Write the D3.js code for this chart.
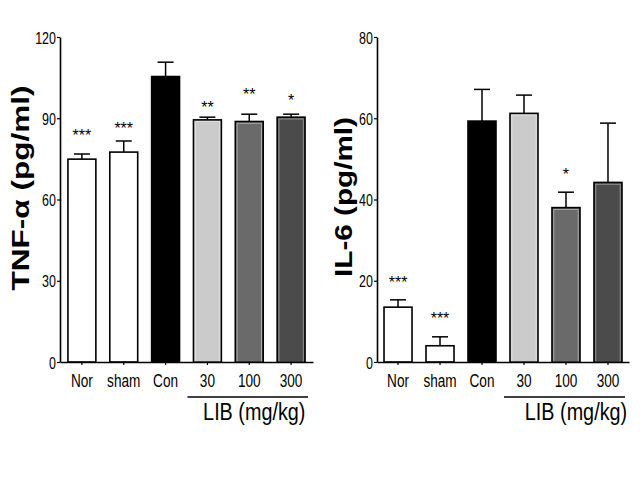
<!DOCTYPE html>
<html><head><meta charset="utf-8">
<script src="https://cdn.jsdelivr.net/npm/d3@7"></script>
<style>body{margin:0;background:#fff}svg{display:block}</style>
</head><body>
<svg id="c" width="640" height="480"></svg>
<script>
const categories = ["Nor","sham","Con","30","100","300"];
const fills = ["#ffffff","#ffffff","#000000","#cbcbcb","#6a6a6a","#4b4b4b"];
const tnfMean = [74.9, 77.5, 105.4, 89.4, 88.8, 90.4];
const tnfErr  = [76.8, 81.6, 110.7, 90.4, 91.5, 91.5];
const tnfSig  = ["***","***","","**","**","*"];
const tnfSigAt = [84, 86.4, null, 94.2, 99, 96.7];
const tnfTicks = [0,30,60,90,120];
const il6Mean = [13.5, 4.0, 59.3, 61.2, 38.0, 44.2];
const il6Err  = [15.3, 6.2, 67.1, 65.7, 41.8, 58.8];
const il6Sig  = ["***","***","","","*",""];
const il6SigAt = [19.7, 10.8, null, null, 46.3, null];
const il6Ticks = [0,20,40,60,80];
const groupLabel = "LIB (mg/kg)";

const svg = d3.select("#c");
const sans = "'Liberation Sans',Arial,sans-serif";
const SX = 0.8, SY = 1.1;

function panel(o){
  const x = d3.scaleBand().domain(categories).range([o.x0, o.x1]).paddingInner(0.333).paddingOuter(o.po);
  const y = d3.scaleLinear().domain([0, o.max]).range([362, 37]);
  const g = svg.append("g");
  const bw = x.bandwidth();
  categories.forEach((c,i)=>{
    const bx = x(c), by = y(o.mean[i]);
    const cx = bx + bw/2;
    g.append("line").attr("x1",cx).attr("x2",cx).attr("y1",by).attr("y2",y(o.err[i])).attr("stroke","#000").attr("stroke-width",1.5);
    g.append("line").attr("x1",cx-8).attr("x2",cx+8).attr("y1",y(o.err[i])).attr("y2",y(o.err[i])).attr("stroke","#000").attr("stroke-width",1.5);
    g.append("rect").attr("x",bx).attr("y",by).attr("width",bw).attr("height",y(0)-by)
      .attr("fill",fills[i]).attr("stroke","#000").attr("stroke-width",1.6);
    if(i>=3){
      g.append("rect").attr("x",bx+1.8).attr("y",by+1.8).attr("width",bw-3.6).attr("height",y(0)-by-1.8)
        .attr("fill","none").attr("stroke","rgba(255,255,255,0.45)").attr("stroke-width",0.9);
    }
    if(o.sig[i]){
      g.append("text").attr("x",cx).attr("y",y(o.sigAt[i])+6).attr("text-anchor","middle")
        .attr("font-family",sans).attr("font-size",16).text(o.sig[i]);
    }
  });
  const ya = g.append("g").attr("transform",`translate(${o.x0},0)`)
    .call(d3.axisLeft(y).tickValues(o.ticks).tickSize(3).tickSizeOuter(0));
  const xa = g.append("g").attr("transform",`translate(0,${y(0)})`)
    .call(d3.axisBottom(x).tickSize(3).tickSizeOuter(0));
  [ya,xa].forEach(a=>{
    a.select(".domain").attr("stroke","#000").attr("stroke-width",1.6);
    a.selectAll(".tick line").attr("stroke","#000").attr("stroke-width",1.2);
    a.selectAll("text").attr("font-family",sans).attr("fill","#000");
  });
  ya.selectAll("text").attr("font-size",16).attr("x",-4/0.78).attr("dy","0.36em")
    .attr("transform",`scale(0.78,1.08)`);
  xa.selectAll("text").attr("font-size",17).attr("y",25/SY).attr("dy",0)
    .attr("transform",`scale(${SX},${SY})`);
  g.append("text").attr("transform",`translate(${o.lx},${o.ly}) rotate(-90)`)
    .attr("text-anchor","middle").attr("dy","0.36em")
    .attr("font-family",sans).attr("font-weight","bold")
    .attr("font-size",24).attr("textLength",o.ll).attr("lengthAdjust","spacingAndGlyphs").text(o.label);
  const gx0 = x("30") - 6, gx1 = x("300") + bw + 3;
  g.append("line").attr("x1",gx0).attr("x2",gx1).attr("y1",397).attr("y2",397).attr("stroke","#000").attr("stroke-width",1.6);
  g.append("g").attr("transform",`translate(${(x("30")+x("300")+bw)/2 + o.gOff},420) scale(0.9,1.05)`)
    .append("text").attr("text-anchor","middle")
    .attr("font-family",sans).attr("font-size",22).text(groupLabel);
}

panel({x0:60, x1:313, po:0.19, max:120, mean:tnfMean, err:tnfErr, sig:tnfSig, sigAt:tnfSigAt, ticks:tnfTicks,
  label:"TNF-\u03b1 (pg/ml)", lx:20, ly:188, ll:205, gOff:5});
panel({x0:377, x1:629, po:0.167, max:80, mean:il6Mean, err:il6Err, sig:il6Sig, sigAt:il6SigAt, ticks:il6Ticks,
  label:"IL-6 (pg/ml)", lx:343, ly:197, ll:160, gOff:10});
</script>
</body></html>
